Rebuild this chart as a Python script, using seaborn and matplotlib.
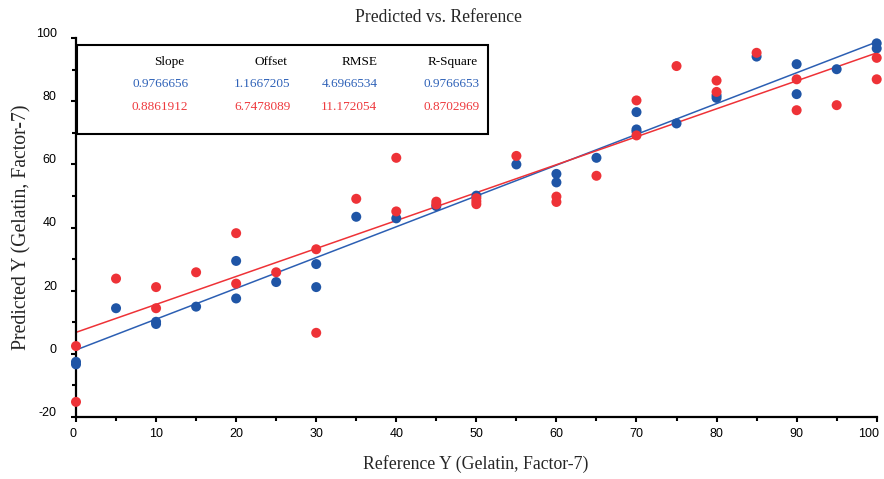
import numpy as np
import pandas as pd
import matplotlib
matplotlib.use("Agg")
import matplotlib.pyplot as plt
import matplotlib.transforms as mtransforms
from matplotlib.patches import Rectangle
import seaborn as sns

# ---- data ----
blue_x = [0, 0, 5, 10, 10, 15, 20, 20, 25, 30, 30, 35, 40, 45, 50, 55, 60, 60, 65,
          70, 70, 70, 75, 80, 80, 85, 90, 90, 95, 100, 100]
blue_y = [-2.6, -3.4, 14.4, 10.1, 9.4, 14.9, 29.4, 17.5, 22.7, 28.4, 21.1, 43.4, 42.9,
          46.8, 50.1, 60.0, 57.0, 54.3, 62.1, 76.6, 71.1, 70.4, 73.0, 81.9, 81.1, 94.2,
          91.8, 82.3, 90.2, 98.4, 96.8]
red_x = [0, 0, 5, 10, 10, 15, 20, 20, 25, 30, 30, 35, 40, 40, 45, 45, 50, 50, 50, 55,
         60, 60, 65, 70, 70, 75, 80, 80, 85, 90, 90, 95, 100, 100]
red_y = [2.4, -15.3, 23.8, 21.1, 14.4, 25.8, 38.2, 22.2, 25.8, 33.1, 6.6, 49.1, 62.1,
         45.1, 48.2, 47.3, 49.3, 48.3, 47.4, 62.7, 49.8, 48.1, 56.4, 80.3, 69.2, 91.2,
         86.6, 83.0, 95.4, 87.0, 77.2, 78.8, 93.8, 87.0]

series_names = ["Blue", "Red"]
slopes = [0.9766656, 0.8861912]
offsets = [1.1667205, 6.7478089]
rmse = ["4.6966534", "11.172054"]
rsq = ["0.9766653", "0.8702969"]
slope_txt = ["0.9766656", "0.8861912"]
offset_txt = ["1.1667205", "6.7478089"]
headers = ["Slope", "Offset", "RMSE", "R-Square"]

title = "Predicted vs. Reference"
xlabel = "Reference Y (Gelatin, Factor-7)"
ylabel = "Predicted Y (Gelatin, Factor-7)"

point_colors = {"Blue": "#1f55a6", "Red": "#ee3237"}
line_colors = ["#2c5fb3", "#ee3237"]
text_colors = ["#2f62b8", "#ee3a3e"]

df = pd.DataFrame({
    "ref": blue_x + red_x,
    "pred": blue_y + red_y,
    "series": ["Blue"] * len(blue_x) + ["Red"] * len(red_x),
})

sns.set_style("ticks")
plt.rcParams["font.family"] = ["Liberation Sans", "DejaVu Sans"]
plt.rcParams["axes.unicode_minus"] = False

W, H = 884, 479
fig = plt.figure(figsize=(W / 100, H / 100), dpi=100)
L, R, T, B = 76, 876.7, 38.3, 416.7
ax = fig.add_axes([L / W, 1 - B / H, (R - L) / W, (B - T) / H])

# regression lines
xs = np.array([0, 100])
for s, o, c in zip(slopes, offsets, line_colors):
    ax.plot(xs, o + s * xs, color=c, lw=1.1, zorder=2)

sns.scatterplot(data=df, x="ref", y="pred", hue="series", palette=point_colors,
                s=52, linewidth=0, legend=False, ax=ax, zorder=3, clip_on=False)

ax.set_xlim(0, 100)
ax.set_ylim(-20, 100)
ax.set_xticks(np.arange(0, 101, 10))
ax.set_xticks(np.arange(0, 101, 5), minor=True)
ax.set_yticks(np.arange(-20, 101, 20))
ax.set_yticks(np.arange(-20, 101, 10), minor=True)
ax.set_xlabel("")
ax.set_ylabel("")
for sp in ["top", "right"]:
    ax.spines[sp].set_visible(False)
for sp in ["left", "bottom"]:
    ax.spines[sp].set_linewidth(1.6)
    ax.spines[sp].set_color("black")
ax.tick_params(which="major", direction="out", length=3.8, width=1.5, colors="black",
               labelsize=9, pad=4)
ax.tick_params(which="minor", direction="out", length=2.6, width=1.5, colors="black")
ax.tick_params(axis="y", which="major", pad=10)

# y tick labels sit a little above their ticks
offset = mtransforms.ScaledTranslation(0, 5.5 / 100, fig.dpi_scale_trans)
for lab in ax.get_yticklabels():
    lab.set_transform(lab.get_transform() + offset)
xlabs = ax.get_xticklabels()
xlabs[0].set_transform(xlabs[0].get_transform() +
                       mtransforms.ScaledTranslation(-2.5 / 100, 0, fig.dpi_scale_trans))
xlabs[-1].set_horizontalalignment("right")
xlabs[-1].set_transform(xlabs[-1].get_transform() +
                        mtransforms.ScaledTranslation(2 / 100, 0, fig.dpi_scale_trans))

serif = ["Liberation Serif", "DejaVu Serif"]
fig.text(438 / W, 1 - 17.5 / H, title, ha="center", va="center", fontsize=12.7,
         family=serif)
fig.text(476 / W, 1 - 464 / H, xlabel, ha="center", va="center", fontsize=12.8,
         family=serif)
fig.text(22 / W, 1 - 227 / H, ylabel, ha="center", va="center", fontsize=14.2,
         family=serif, rotation=90)

# statistics table box
def fx(px):
    return (px - L) / (R - L)

def fy(py):
    return (B - py) / (B - T)

ax.add_patch(Rectangle((fx(77.3), fy(134)), fx(487.7) - fx(77.3), fy(45) - fy(134),
                       transform=ax.transAxes, fill=False, ec="black", lw=1.5,
                       zorder=4, clip_on=False))
col_px = [188.3, 290.5, 377.3, 479.3]
head_px = [184.5, 287.0, 377.3, 477.5]
row_py = [62.3, 84.3, 107.3]
for h, xp in zip(headers, head_px):
    ax.text(fx(xp), fy(row_py[0]), h, transform=ax.transAxes, ha="right", va="center",
            fontsize=9.5, family=serif, color="black")
for i in range(2):
    vals = [slope_txt[i], offset_txt[i], rmse[i], rsq[i]]
    for v, xp in zip(vals, col_px):
        ax.text(fx(xp), fy(row_py[i + 1]), v, transform=ax.transAxes, ha="right",
                va="center", fontsize=9.5, family=serif, color=text_colors[i])

fig.savefig("out.png", dpi=100)
